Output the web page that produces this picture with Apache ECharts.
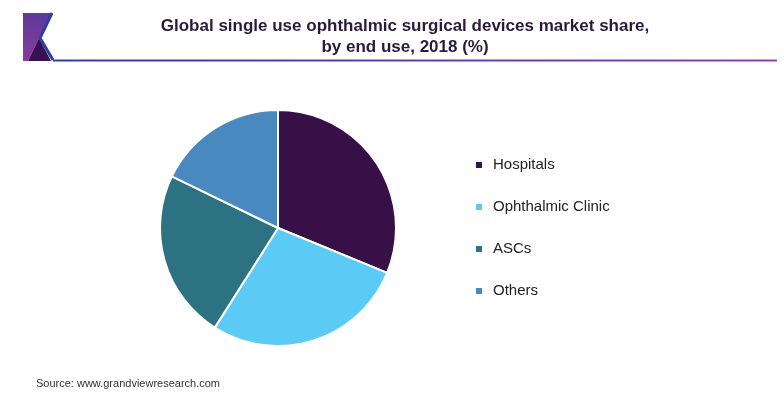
<!DOCTYPE html>
<html>
<head>
<meta charset="utf-8">
<script src="https://cdn.jsdelivr.net/npm/echarts@6/dist/echarts.min.js"></script>
<style>
  html, body { margin: 0; padding: 0; background: #fff; }
  #chart { width: 784px; height: 397px; }
</style>
</head>
<body>
<div id="chart"></div>
<script>
// market share by end use, 2018 (%)
const categories = ['Hospitals', 'Ophthalmic Clinic', 'ASCs', 'Others']
const shares = [31.2, 27.8, 23.2, 17.8]
const colors = ['#361046', '#5bcaf5', '#2d7282', '#4a89bf']

const chart = echarts.init(document.getElementById('chart'))

const option = {
  animation: false,
  title: {
    text: 'Global single use ophthalmic surgical devices market share,\nby end use, 2018 (%)',
    left: 405,
    top: 16,
    padding: 0,
    textAlign: 'center',
    textStyle: {
      fontFamily: 'Liberation Sans, Arial, sans-serif',
      fontSize: 17,
      fontWeight: 'bold',
      color: '#2b1a3f',
      lineHeight: 21
    }
  },
  legend: {
    orient: 'vertical',
    left: 474,
    top: 155,
    padding: 0,
    itemWidth: 8,
    itemHeight: 8,
    itemGap: 22,
    icon: 'rect',
    data: categories,
    textStyle: {
      fontFamily: 'Liberation Sans, Arial, sans-serif',
      fontSize: 15,
      color: '#222',
      padding: [0, 0, 0, 5],
      lineHeight: 20
    }
  },
  graphic: [
    // logo
    {
      type: 'polygon',
      shape: { points: [[23, 13], [51, 13], [39, 38], [28, 61], [23, 61]] },
      style: {
        fill: new echarts.graphic.LinearGradient(0, 0, 0, 1, [
          { offset: 0, color: '#5b3a9c' },
          { offset: 1, color: '#8b3a98' }
        ])
      }
    },
    {
      type: 'polygon',
      shape: { points: [[28, 61], [39, 38], [51, 61]] },
      style: { fill: '#3a1050' }
    },
    {
      type: 'polyline',
      shape: { points: [[52, 13], [40, 38], [53, 60]] },
      style: { stroke: '#2b3fa8', lineWidth: 3, fill: null }
    },
    // header rule
    {
      type: 'line',
      shape: { x1: 53, y1: 60.5, x2: 777, y2: 60.5 },
      style: {
        lineWidth: 2,
        stroke: new echarts.graphic.LinearGradient(0, 0, 1, 0, [
          { offset: 0, color: '#2e3f9e' },
          { offset: 1, color: '#8a44a8' }
        ])
      }
    },
    {
      type: 'text',
      left: 36,
      top: 378,
      style: {
        text: 'Source: www.grandviewresearch.com',
        fontFamily: 'Liberation Sans, Arial, sans-serif',
        fontSize: 11,
        fill: '#333'
      }
    }
  ],
  series: [
    {
      type: 'pie',
      center: [278, 228],
      radius: [0, 118],
      startAngle: 90,
      clockwise: true,
      label: { show: false },
      labelLine: { show: false },
      itemStyle: { borderColor: '#fff', borderWidth: 2 },
      emphasis: { disabled: true },
      data: categories.map((name, i) => ({
        name,
        value: shares[i],
        itemStyle: { color: colors[i] }
      }))
    }
  ]
}

chart.setOption(option)
</script>
</body>
</html>
